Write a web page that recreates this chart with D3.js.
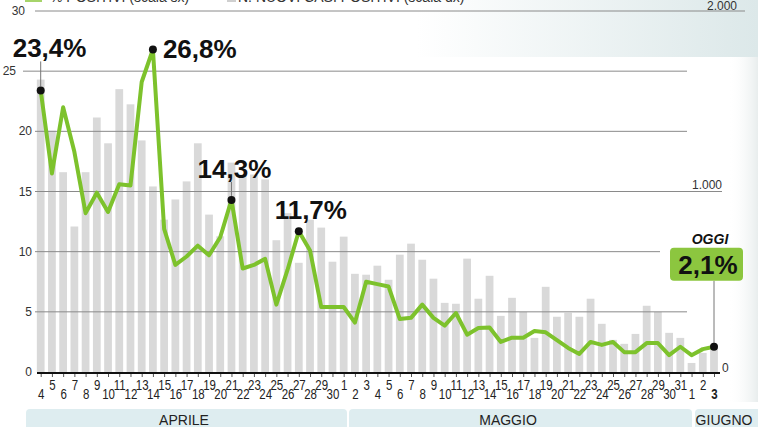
<!DOCTYPE html>
<html>
<head>
<meta charset="utf-8">
<script src="https://cdn.jsdelivr.net/npm/d3@7"></script>
<style>
  body { margin: 0; background: #fff; }
  svg { display: block; font-family: "Liberation Sans", Arial, sans-serif; }
</style>
</head>
<body>
<div id="chart"></div>
<script>
// day tick labels, 4 April -> 3 June
var dayLabels = ["4","5","6","7","8","9","10","11","12","13","14","15","16","17","18","19","20","21","22","23","24","25","26","27","28","29","30",
  "1","2","3","4","5","6","7","8","9","10","11","12","13","14","15","16","17","18","19","20","21","22","23","24","25","26","27","28","29","30","31",
  "1","2","3"];

// new positive cases (right scale)
var newCases = [1620,1337,1107,806,1107,1410,1267,1567,1483,1283,1028,844,956,1056,1267,872,752,1160,1094,1094,1067,730,880,605,844,800,611,
  750,544,539,589,511,650,711,622,517,383,378,628,406,533,311,411,333,189,472,306,328,306,406,267,178,156,211,367,333,217,189,
  50,106,150];

// % positive (left scale)
var pctPositive = [23.4,16.5,22.0,18.3,13.2,14.9,13.3,15.6,15.5,24.1,26.8,11.9,8.9,9.6,10.5,9.7,11.2,14.3,8.6,8.9,9.4,5.6,8.5,11.7,10.1,5.4,5.4,
  5.4,4.1,7.5,7.3,7.1,4.4,4.5,5.6,4.5,3.85,4.9,3.1,3.65,3.7,2.5,2.85,2.85,3.4,3.3,2.65,2.0,1.5,2.5,2.25,2.5,1.65,1.65,2.4,2.4,1.4,2.1,
  1.4,1.9,2.1];

var months = ["APRILE", "MAGGIO", "GIUGNO"];
var leftTicks = [0, 5, 10, 15, 20, 25, 30];
var rightTicks = [0, 1000, 2000];
var rightTickLabels = ["0", "1.000", "2.000"];
var highlightIdx = [0, 10, 17, 23];
var highlightLabels = ["23,4%", "26,8%", "14,3%", "11,7%"];

// layout only
var W = 758, H = 427;
var green = "#7dc22c";
var monthBands = [[26, 347], [349, 692], [695, 772]];
var monthTextX = [184, 508, 724];
var gridEnd = { 5: 687, 10: 660, 15: 722, 20: 687, 25: 687, 30: 745 };
var gridStart = { 25: 23 };
var leftLabelX = { 30: 25, 25: 16 };
var annot = [
  { dx: -28, dy: -33, anchor: "start", stem: [-29, -4] },
  { dx: 10, dy: 8.5, anchor: "start" },
  { dx: 3, dy: -22, anchor: "middle", stem: [-18, -4] },
  { dx: 12, dy: -12, anchor: "middle" }
];

var svg = d3.select("#chart").append("svg")
  .attr("width", W).attr("height", H);

var defs = svg.append("defs");
var gTop = defs.append("linearGradient").attr("id", "topfade");
gTop.append("stop").attr("offset", "0%").attr("stop-color", "#ffffff");
gTop.append("stop").attr("offset", "55%").attr("stop-color", "#ffffff");
gTop.append("stop").attr("offset", "100%").attr("stop-color", "#dce8e9");
var gSide = defs.append("linearGradient").attr("id", "sidefade");
gSide.append("stop").attr("offset", "0%").attr("stop-color", "#ffffff").attr("stop-opacity", 0);
gSide.append("stop").attr("offset", "100%").attr("stop-color", "#e8eded");

svg.append("rect").attr("x", 0).attr("y", 0).attr("width", W).attr("height", 57).attr("fill", "url(#topfade)");
svg.append("rect").attr("x", 728).attr("y", 57).attr("width", 30).attr("height", 345).attr("fill", "url(#sidefade)");

// scales
var x = d3.scalePoint()
  .domain(dayLabels.map(function(d, i) { return i; }))
  .range([40.7, 714]);
var yL = d3.scaleLinear().domain([0, 30]).range([372, 11]);
var yR = d3.scaleLinear().domain([0, 2000]).range([372, 11]);
var bw = x.step() * 0.69;

// legend (cut at the top edge)
svg.append("rect").attr("x", 25).attr("y", -10).attr("width", 17).attr("height", 12).attr("fill", "#a6d46a");
svg.append("text").attr("x", 50).attr("y", 1.5).attr("font-size", 14).attr("fill", "#333").text("% POSITIVI (scala sx)");
svg.append("rect").attr("x", 227).attr("y", -10).attr("width", 9).attr("height", 12).attr("fill", "#cfcfcf");
svg.append("text").attr("x", 238).attr("y", 1.5).attr("font-size", 14).attr("fill", "#333").text("N. NUOVI CASI POSITIVI (scala dx)");

// bars
svg.append("g").selectAll("rect")
  .data(newCases)
  .enter().append("rect")
  .attr("x", function(d, i) { return x(i) - bw / 2; })
  .attr("y", function(d) { return yR(d); })
  .attr("width", bw)
  .attr("height", function(d) { return yR(0) - yR(d); })
  .attr("fill", "#d9d9d9");

// gridlines + left labels
var grid = svg.append("g");
leftTicks.filter(function(t) { return t > 0; }).forEach(function(t) {
  grid.append("line")
    .attr("x1", gridStart[t] || 35).attr("x2", gridEnd[t])
    .attr("y1", yL(t)).attr("y2", yL(t))
    .attr("stroke", "#8a8a8a").attr("stroke-width", 1);
});
svg.append("g").selectAll("text")
  .data(leftTicks)
  .enter().append("text")
  .attr("x", function(d) { return leftLabelX[d] || 32; })
  .attr("y", function(d) { return yL(d) + 4; })
  .attr("text-anchor", "end")
  .attr("font-size", 12)
  .attr("fill", "#333")
  .text(function(d) { return d; });

// right labels
var rightPos = [
  { x: 722, y: 0, anchor: "start" },
  { x: 722, y: -3, anchor: "end" },
  { x: 737, y: -1, anchor: "end" }
];
svg.append("g").selectAll("text")
  .data(rightTicks)
  .enter().append("text")
  .attr("x", function(d, i) { return rightPos[i].x; })
  .attr("y", function(d, i) { return yR(d) + rightPos[i].y; })
  .attr("text-anchor", function(d, i) { return rightPos[i].anchor; })
  .attr("font-size", 12)
  .attr("fill", "#333")
  .text(function(d, i) { return rightTickLabels[i]; });

// line
var line = d3.line()
  .x(function(d, i) { return x(i); })
  .y(function(d) { return yL(d); });
svg.append("path")
  .datum(pctPositive)
  .attr("d", line)
  .attr("fill", "none")
  .attr("stroke", green)
  .attr("stroke-width", 4)
  .attr("stroke-linejoin", "round");

// x axis
var xAxis = svg.append("g")
  .attr("transform", "translate(0,373)")
  .call(d3.axisBottom(x).tickSize(4).tickFormat(function(i) { return dayLabels[i]; }));
xAxis.select(".domain").remove();
xAxis.selectAll(".tick line").attr("stroke", "#555");
xAxis.selectAll(".tick text")
  .attr("y", function(i) { return i % 2 ? 17 : 26; })
  .attr("dy", 0)
  .attr("transform", "scale(0.82,1)")
  .attr("font-size", 14)
  .attr("font-family", "'Liberation Sans', Arial, sans-serif")
  .attr("fill", "#222")
  .attr("font-weight", function(i) { return i === dayLabels.length - 1 ? "bold" : "normal"; });
svg.append("line")
  .attr("x1", 37).attr("x2", 720)
  .attr("y1", 373).attr("y2", 373)
  .attr("stroke", "#111").attr("stroke-width", 2);

// month bands
var mb = svg.append("g");
months.forEach(function(m, i) {
  mb.append("rect")
    .attr("x", monthBands[i][0]).attr("y", 409)
    .attr("width", monthBands[i][1] - monthBands[i][0]).attr("height", 24)
    .attr("rx", 4)
    .attr("fill", "#deedf0");
  mb.append("text")
    .attr("x", monthTextX[i]).attr("y", 425)
    .attr("text-anchor", "middle")
    .attr("font-size", 14)
    .attr("fill", "#222")
    .text(m);
});

// highlighted points
var ann = svg.append("g");
highlightIdx.forEach(function(idx, k) {
  var px = x(idx), py = yL(pctPositive[idx]), a = annot[k];
  if (a.stem) {
    ann.append("line")
      .attr("x1", px).attr("x2", px)
      .attr("y1", py + a.stem[0]).attr("y2", py + a.stem[1])
      .attr("stroke", "#777").attr("stroke-width", 1);
  }
  ann.append("text")
    .attr("x", px + a.dx).attr("y", py + a.dy)
    .attr("text-anchor", a.anchor)
    .attr("font-size", 26).attr("font-weight", "bold")
    .attr("fill", "#111")
    .text(highlightLabels[k]);
  ann.append("circle").attr("cx", px).attr("cy", py).attr("r", 4).attr("fill", "#111");
});

// "OGGI" box on the last value
var li = pctPositive.length - 1;
var ox = x(li), oy = yL(pctPositive[li]);
ann.append("line")
  .attr("x1", ox).attr("x2", ox).attr("y1", oy - 66).attr("y2", oy - 3)
  .attr("stroke", "#777").attr("stroke-width", 1);
ann.append("rect")
  .attr("x", ox - 44).attr("y", oy - 99).attr("width", 73).attr("height", 33)
  .attr("rx", 4).attr("fill", "#8cc63f");
ann.append("text")
  .attr("x", ox - 6).attr("y", oy - 73)
  .attr("text-anchor", "middle")
  .attr("font-size", 26).attr("font-weight", "bold").attr("fill", "#111")
  .text("2,1%");
ann.append("text")
  .attr("x", ox - 4).attr("y", oy - 103)
  .attr("text-anchor", "middle")
  .attr("font-size", 14).attr("font-weight", "bold").attr("font-style", "italic").attr("fill", "#111")
  .text("OGGI");
ann.append("circle").attr("cx", ox).attr("cy", oy).attr("r", 4).attr("fill", "#111");
</script>
</body>
</html>
